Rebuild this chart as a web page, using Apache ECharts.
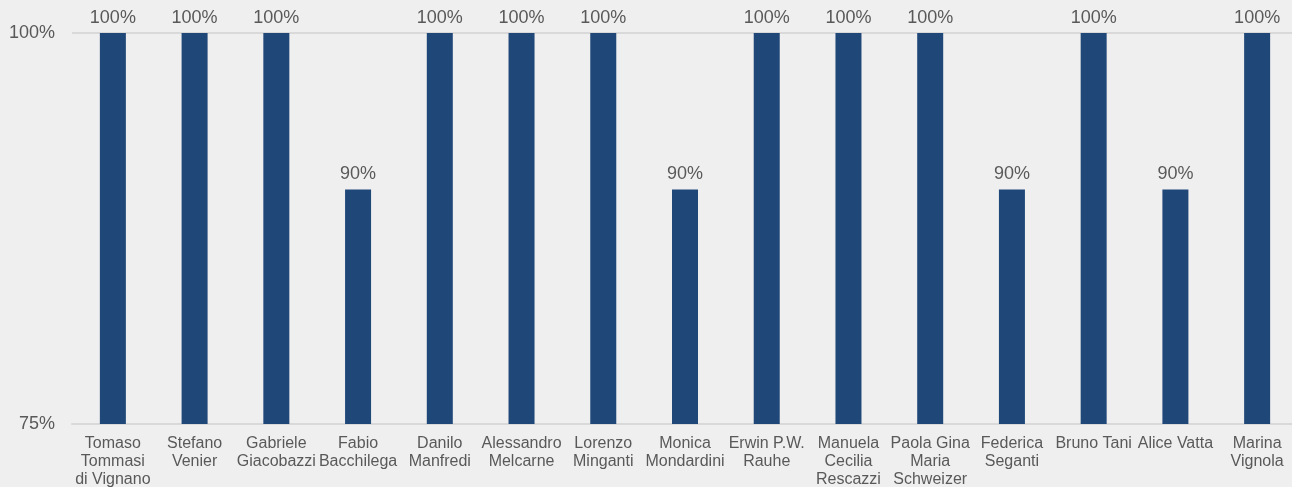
<!DOCTYPE html>
<html>
<head>
<meta charset="utf-8">
<script src="https://cdn.jsdelivr.net/npm/echarts@6/dist/echarts.min.js"></script>
<style>
html,body{margin:0;padding:0;background:#efefef;}
#c{width:1292px;height:487px;}
</style>
</head>
<body>
<div id="c"></div>
<script>
const categories = [
  "Tomaso\nTommasi\ndi Vignano",
  "Stefano\nVenier",
  "Gabriele\nGiacobazzi",
  "Fabio\nBacchilega",
  "Danilo\nManfredi",
  "Alessandro\nMelcarne",
  "Lorenzo\nMinganti",
  "Monica\nMondardini",
  "Erwin P.W.\nRauhe",
  "Manuela\nCecilia\nRescazzi",
  "Paola Gina\nMaria\nSchweizer",
  "Federica\nSeganti",
  "Bruno Tani",
  "Alice Vatta",
  "Marina\nVignola"
];
const values = [100, 100, 100, 90, 100, 100, 100, 90, 100, 100, 100, 90, 100, 90, 100];
const yMin = 75, yMax = 100, yStep = 25;

const chart = echarts.init(document.getElementById('c'), null, {renderer: 'canvas'});
chart.setOption({
  backgroundColor: '#efefef',
  animation: false,
  grid: {left: 72, width: 1226, top: 33, bottom: 63, containLabel: false, outerBoundsMode: 'none'},
  xAxis: {
    type: 'category',
    data: categories,
    axisLine: {show: true, lineStyle: {color: '#d9d9d9', width: 2}},
    axisTick: {show: false},
    axisLabel: {
      interval: 0,
      color: '#595959',
      fontFamily: 'Liberation Sans, Arial, sans-serif',
      fontSize: 16,
      lineHeight: 18,
      margin: 11
    }
  },
  yAxis: {
    type: 'value',
    min: yMin, max: yMax, interval: yStep,
    axisLine: {show: false},
    axisTick: {show: false},
    splitLine: {show: true, lineStyle: {color: '#d9d9d9', width: 2}},
    axisLabel: {
      formatter: '{value}%',
      color: '#595959',
      fontFamily: 'Liberation Sans, Arial, sans-serif',
      fontSize: 18,
      margin: 17
    }
  },
  series: [{
    type: 'bar',
    data: values,
    barWidth: 26,
    itemStyle: {color: '#1f4778'},
    label: {
      show: true,
      position: 'top',
      distance: 6,
      formatter: '{c}%',
      color: '#595959',
      fontFamily: 'Liberation Sans, Arial, sans-serif',
      fontSize: 18
    }
  }]
});
</script>
</body>
</html>
